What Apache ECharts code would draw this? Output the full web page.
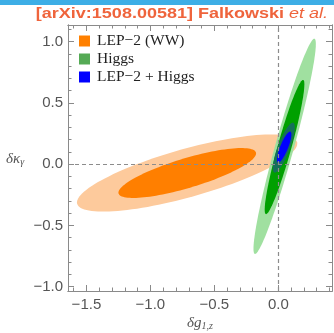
<!DOCTYPE html>
<html>
<head>
<meta charset="utf-8">
<script src="https://cdn.jsdelivr.net/npm/echarts@6/dist/echarts.min.js"></script>
<style>
html, body { margin: 0; padding: 0; background: #fff; }
#chart { width: 334px; height: 333px; }
</style>
</head>
<body>
<div id="chart"></div>
<script>
// ellipses: centre (x, y), then two conjugate half-diameters u and v
const lepOuter = [-0.713, -0.072, 0.861, 0.240, 0, 0.204];
const lepInner = [-0.712, -0.072, 0.538, 0.160, 0, 0.126];
const higgsOuter = [0.0495, 0.1455, 0.2315, 0.8785, 0.076, 0];
const higgsInner = [0.0485, 0.140, 0.1445, 0.548, 0.056, 0];
const combOuter = [0.043, 0.135, 0.0695, 0.204, 0.050, 0];
const combInner = [0.0457, 0.139, 0.0457, 0.127, 0.033, 0];

const legendNames = ['LEP\u22122 (WW)', 'Higgs', 'LEP\u22122 + Higgs'];

const xMajorTicks = [-1.5, -1.0, -0.5, 0.0];
const xMinorTicks = [-1.6, -1.4, -1.3, -1.2, -1.1, -0.9, -0.8, -0.7, -0.6, -0.4, -0.3, -0.2, -0.1, 0.1, 0.2, 0.3, 0.4];
const yMajorTicks = [-1.0, -0.5, 0.0, 0.5, 1.0];
const yMinorTicks = [-0.9, -0.8, -0.7, -0.6, -0.4, -0.3, -0.2, -0.1, 0.1, 0.2, 0.3, 0.4, 0.6, 0.7, 0.8, 0.9, 1.1];

const frameColor = '#8a8a8a';
const labelColor = '#555';

function fmt(v) {
    return v.toFixed(1).replace('-', '\u2212');
}

function renderEllipse(params, api) {
    let cx = api.value(0), cy = api.value(1);
    let ux = api.value(2), uy = api.value(3);
    let vx = api.value(4), vy = api.value(5);
    let pts = [];
    for (let k = 0; k < 120; k++) {
        let t = 2 * Math.PI * k / 120;
        pts.push(api.coord([cx + ux * Math.cos(t) + vx * Math.sin(t), cy + uy * Math.cos(t) + vy * Math.sin(t)]));
    }
    return {
        type: 'polygon',
        shape: { points: pts },
        style: { fill: api.visual('color') }
    };
}

function makeAxis(dim, position, ticks, length, showLabel) {
    return {
        type: 'value',
        position: position,
        min: dim === 'x' ? -1.644 : -1.035,
        max: dim === 'x' ? 0.4195 : 1.136,
        axisLine: { show: true, onZero: false, lineStyle: { color: frameColor, width: 1 } },
        axisTick: { show: true, inside: true, length: length, customValues: ticks, lineStyle: { color: frameColor, width: 1 } },
        axisLabel: {
            show: showLabel,
            customValues: ticks,
            formatter: fmt,
            color: labelColor,
            fontFamily: 'Liberation Sans',
            fontSize: 15,
            margin: dim === 'x' ? 6 : 5
        },
        splitLine: { show: false }
    };
}

let chart = echarts.init(document.getElementById('chart'), null, { renderer: 'canvas' });

let option = {
    animation: false,
    backgroundColor: '#fff',
    grid: { left: 68, right: 2, top: 25, bottom: 42, containLabel: false },
    xAxis: [
        makeAxis('x', 'bottom', xMajorTicks, 6, true),
        makeAxis('x', 'bottom', xMinorTicks, 3.5, false),
        makeAxis('x', 'top', xMajorTicks, 6, false),
        makeAxis('x', 'top', xMinorTicks, 3.5, false)
    ],
    yAxis: [
        makeAxis('y', 'left', yMajorTicks, 6, true),
        makeAxis('y', 'left', yMinorTicks, 3.5, false),
        makeAxis('y', 'right', yMajorTicks, 6, false),
        makeAxis('y', 'right', yMinorTicks, 3.5, false)
    ],
    legend: {
        data: legendNames,
        orient: 'vertical',
        left: 79,
        top: 32,
        padding: 0,
        itemGap: 0,
        itemWidth: 11,
        itemHeight: 11,
        icon: 'rect',
        selectedMode: false,
        textStyle: {
            fontFamily: 'Liberation Serif',
            fontSize: 15.5,
            lineHeight: 18,
            color: '#222',
            padding: [0, 0, 0, 2]
        }
    },
    graphic: [
        { type: 'rect', left: 0, top: 0, shape: { width: 334, height: 5 }, style: { fill: '#3daee6' } },
        {
            type: 'text', x: 328, y: 14, scaleX: 1.2,
            style: {
                text: '{b|[arXiv:1508.00581] Falkowski }{i|et al.}',
                align: 'right',
                verticalAlign: 'middle',
                rich: {
                    b: { fontFamily: 'Liberation Sans', fontWeight: 'bold', fontSize: 15, fill: '#ef643c' },
                    i: { fontFamily: 'Liberation Sans', fontStyle: 'italic', fontSize: 15, fill: '#ef643c' }
                }
            }
        },
        {
            type: 'text', left: 6, top: 152,
            style: {
                text: '{a|δκ}{s|γ}',
                rich: {
                    a: { fontFamily: 'Liberation Serif', fontStyle: 'italic', fontSize: 15, fill: labelColor },
                    s: { fontFamily: 'Liberation Serif', fontStyle: 'italic', fontSize: 10, fill: labelColor, verticalAlign: 'bottom', padding: [6, 0, 0, 0] }
                }
            }
        },
        {
            type: 'text', left: 187, top: 316,
            style: {
                text: '{a|δg}{s|1,z}',
                rich: {
                    a: { fontFamily: 'Liberation Serif', fontStyle: 'italic', fontSize: 15, fill: labelColor },
                    s: { fontFamily: 'Liberation Serif', fontStyle: 'italic', fontSize: 10, fill: labelColor, verticalAlign: 'bottom', padding: [6, 0, 0, 0] }
                }
            }
        }
    ],
    series: [
        {
            name: legendNames[0],
            type: 'custom',
            renderItem: renderEllipse,
            encode: { x: 0, y: 1 },
            itemStyle: { color: '#ff8000' },
            data: [
                { value: lepOuter, itemStyle: { color: '#fdca9c' } },
                { value: lepInner, itemStyle: { color: '#ff7f00' } }
            ],
            z: 2
        },
        {
            name: legendNames[1],
            type: 'custom',
            renderItem: renderEllipse,
            encode: { x: 0, y: 1 },
            itemStyle: { color: '#55aa55' },
            data: [
                { value: higgsOuter, itemStyle: { color: '#a0e0a0' } },
                { value: higgsInner, itemStyle: { color: '#00a000' } }
            ],
            z: 3
        },
        {
            name: legendNames[2],
            type: 'custom',
            renderItem: renderEllipse,
            encode: { x: 0, y: 1 },
            itemStyle: { color: '#0000ff' },
            data: [
                { value: combOuter, itemStyle: { color: '#15705a' } },
                { value: combInner, itemStyle: { color: '#0000ff' } }
            ],
            z: 4
        },
        {
            type: 'line',
            data: [],
            z: 6,
            markLine: {
                silent: true,
                symbol: 'none',
                label: { show: false },
                lineStyle: { color: '#8c8c8c', type: [4, 3], width: 1.2 },
                data: [{ xAxis: 0 }, { yAxis: 0 }]
            }
        }
    ]
};

chart.setOption(option);
</script>
</body>
</html>
